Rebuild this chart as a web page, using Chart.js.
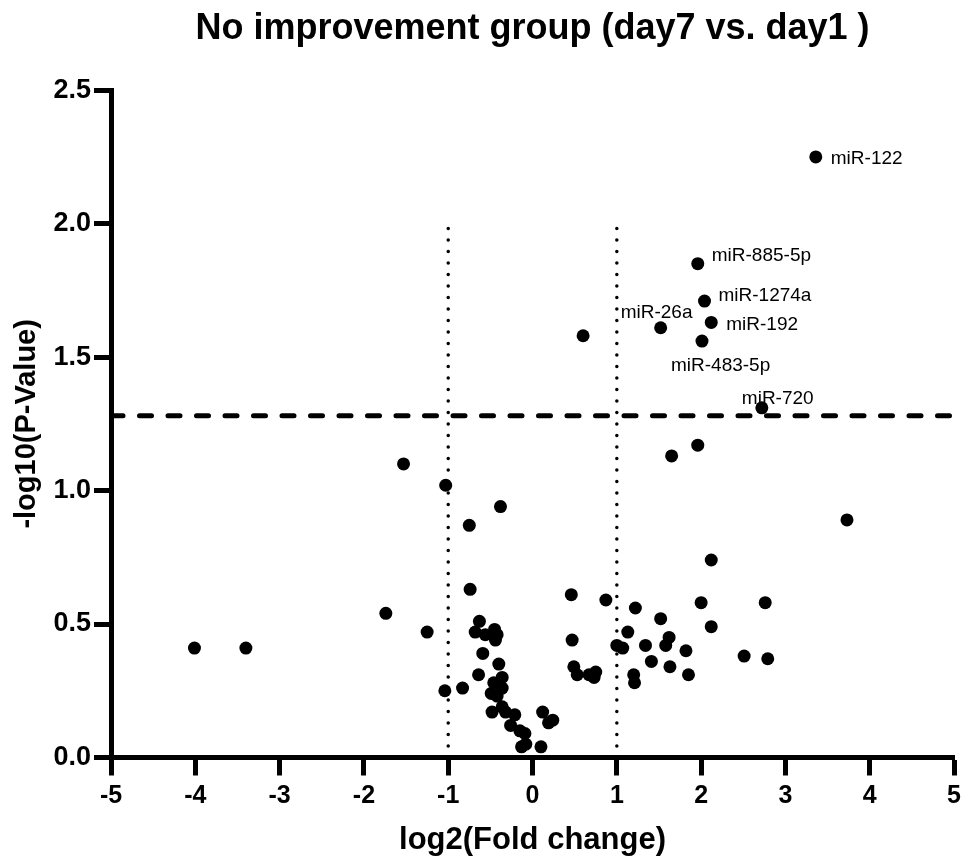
<!DOCTYPE html>
<html>
<head>
<meta charset="utf-8">
<script src="https://cdn.jsdelivr.net/npm/chart.js@4/dist/chart.umd.min.js"></script>
<style>
  body { margin: 0; background: #fff; }
  #caja { width: 967px; height: 858px; }
</style>
</head>
<body>
<div id="caja"><canvas id="grafica" width="967" height="858"></canvas></div>
<script>
// DATOS
// miRNAs con nombre (por encima del corte)
const labeledNames = ["miR-122", "miR-885-5p", "miR-1274a", "miR-192", "miR-26a", "miR-483-5p", "miR-720"];
const labeledX = [3.36, 1.96, 2.04, 2.12, 1.52, 2.01, 2.72];
const labeledY = [2.25, 1.85, 1.71, 1.63, 1.61, 1.56, 1.31];

// resto de miRNAs
const otherX = [0.60, -1.53, -1.03, -0.38, -0.75, -0.74, 1.65, 1.96, 3.73, 2.12,
  -4.01, -3.40, -1.74, -1.25, -1.04, -0.83, -0.63, -0.68, -0.56, -0.45,
  -0.42, -0.44, -0.59, -0.40, -0.64, -0.36, -0.46, -0.36, -0.49, -0.42,
  -0.36, -0.48, -0.32, -0.21, -0.26, -0.15, -0.09, -0.13, -0.08, 0.10,
  0.12, 0.19, 0.24, 0.46, 0.87, 0.47, 0.49, 0.53, 0.67, 0.75,
  0.73, 1.22, 1.52, 1.13, 1.00, 1.07, 1.34, 1.62, 1.58, 1.82,
  1.41, 1.63, 1.85, 1.20, 1.21, 2.00, 2.12, 2.76, 2.51, 2.79];
const otherY = [1.58, 1.10, 1.02, 0.94, 0.87, 0.63, 1.13, 1.17, 0.89, 0.74,
  0.41, 0.41, 0.54, 0.47, 0.25, 0.26, 0.51, 0.47, 0.46, 0.48,
  0.46, 0.44, 0.39, 0.35, 0.31, 0.30, 0.28, 0.26, 0.24, 0.23,
  0.19, 0.17, 0.17, 0.16, 0.12, 0.10, 0.09, 0.04, 0.05, 0.04,
  0.17, 0.13, 0.14, 0.61, 0.59, 0.44, 0.34, 0.31, 0.31, 0.32,
  0.30, 0.56, 0.52, 0.47, 0.42, 0.41, 0.42, 0.45, 0.42, 0.40,
  0.36, 0.34, 0.31, 0.31, 0.28, 0.58, 0.49, 0.58, 0.38, 0.37];

// cortes
const fcCut = 1;
const pCut = 1.28;
const pLineTop = 2.0;

const xTicks = [-5, -4, -3, -2, -1, 0, 1, 2, 3, 4, 5];
const yTicks = ["0.0", "0.5", "1.0", "1.5", "2.0", "2.5"];

const fuente = '"Liberation Sans", Arial, sans-serif';

// posicion del texto respecto al punto (izq., linea base)
const labelOffsets = [[15, 7], [14, -3], [14, 0], [15, 8], [-40, -10], [-31, 30], [-20, -4]];

let puntos = [];
for (let i = 0; i < labeledNames.length; i++) {
  puntos.push({ x: labeledX[i], y: labeledY[i] });
}
for (let i = 0; i < otherX.length; i++) {
  puntos.push({ x: otherX[i], y: otherY[i] });
}

const etiquetas = {
  id: 'etiquetas',
  afterDatasetsDraw(chart) {
    const meta = chart.getDatasetMeta(0);
    const ctx = chart.ctx;
    ctx.save();
    ctx.font = '19px ' + fuente;
    ctx.fillStyle = '#000';
    ctx.textAlign = 'left';
    ctx.textBaseline = 'alphabetic';
    for (let i = 0; i < labeledNames.length; i++) {
      const p = meta.data[i];
      ctx.fillText(labeledNames[i], p.x + labelOffsets[i][0], p.y + labelOffsets[i][1]);
    }
    ctx.restore();
  }
};

Chart.defaults.color = '#000';

let micanvas = document.getElementById('grafica').getContext("2d");
var char = new Chart(micanvas, {
  type: "scatter",
  data: {
    datasets: [
      {
        label: "miRNA",
        data: puntos,
        backgroundColor: "#000",
        borderWidth: 0,
        pointRadius: 6.5,
        order: 0
      },
      {
        label: "p",
        data: [{ x: -5, y: pCut }, { x: 5, y: pCut }],
        showLine: true,
        borderColor: "#000",
        borderWidth: 5,
        borderDash: [12, 16.5],
        borderCapStyle: 'round',
        pointRadius: 0,
        order: 1
      },
      {
        label: "-fc",
        data: [{ x: -fcCut, y: 0 }, { x: -fcCut, y: pLineTop }],
        showLine: true,
        borderColor: "#000",
        borderWidth: 3.5,
        borderDash: [0, 11.5],
        borderCapStyle: 'round',
        pointRadius: 0,
        order: 1
      },
      {
        label: "fc",
        data: [{ x: fcCut, y: 0 }, { x: fcCut, y: pLineTop }],
        showLine: true,
        borderColor: "#000",
        borderWidth: 3.5,
        borderDash: [0, 11.5],
        borderCapStyle: 'round',
        pointRadius: 0,
        order: 1
      }
    ]
  },
  options: {
    responsive: false,
    animation: false,
    devicePixelRatio: 1,
    layout: { padding: { left: 0, right: 11, top: 0, bottom: 0 } },
    plugins: {
      legend: { display: false },
      tooltip: { enabled: false },
      title: {
        display: true,
        text: "No improvement group (day7 vs. day1 )",
        fullSize: false,
        font: { family: fuente, size: 36, weight: 'bold', lineHeight: 1.2 },
        padding: { top: 7, bottom: 40 }
      }
    },
    scales: {
      x: {
        type: 'linear',
        min: -5,
        max: 5,
        afterFit: function (s) { s.height = 100.5; },
        afterBuildTicks: function (s) { s.ticks = xTicks.map(v => ({ value: v })); },
        ticks: {
          font: { family: fuente, size: 25, weight: 'bold' },
          padding: 6,
          callback: v => String(v)
        },
        grid: { drawOnChartArea: false, drawTicks: true, tickLength: 18, tickWidth: 5, tickColor: '#000' },
        border: { display: true, color: '#000', width: 5 },
        title: {
          display: true,
          text: "log2(Fold change)",
          font: { family: fuente, size: 31, weight: 'bold', lineHeight: 1 },
          padding: { top: 0, bottom: 2 }
        }
      },
      y: {
        type: 'linear',
        min: 0,
        max: 2.5,
        afterFit: function (s) { s.width = 111; },
        afterBuildTicks: function (s) { s.ticks = yTicks.map(t => ({ value: parseFloat(t) })); },
        ticks: {
          font: { family: fuente, size: 27, weight: 'bold' },
          padding: 3,
          callback: v => yTicks[Math.round(v / 0.5)]
        },
        grid: { drawOnChartArea: false, drawTicks: true, tickLength: 17, tickWidth: 5, tickColor: '#000' },
        border: { display: true, color: '#000', width: 5 },
        title: {
          display: true,
          text: "-log10(P-Value)",
          font: { family: fuente, size: 29, weight: 'bold', lineHeight: 1.2 },
          padding: { top: 10, bottom: 0 }
        }
      }
    }
  },
  plugins: [etiquetas]
});
</script>
</body>
</html>
